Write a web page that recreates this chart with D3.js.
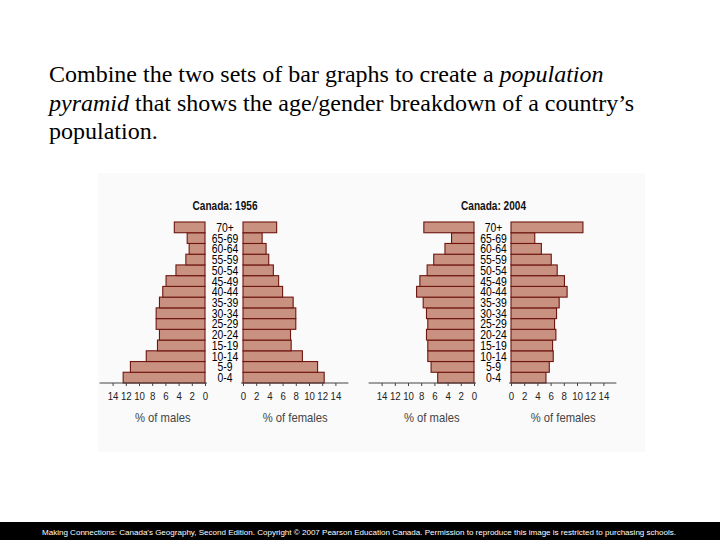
<!DOCTYPE html>
<html>
<head>
<meta charset="utf-8">
<script src="https://cdn.jsdelivr.net/npm/d3@7"></script>
<style>
  html, body { margin: 0; padding: 0; background: #ffffff; }
  svg { display: block; }
</style>
</head>
<body>
<svg id="chart" width="720" height="540"></svg>
<script>
// ---------------- data ----------------
const ageGroups = ["0-4","5-9","10-14","15-19","20-24","25-29","30-34","35-39","40-44","45-49","50-54","55-59","60-64","65-69","70+"];
const males1956   = [12.4, 11.3, 8.9, 7.2, 6.9, 7.4, 7.4, 6.9, 6.4, 5.9, 4.4, 2.9, 2.4, 2.7, 4.65];
const females1956 = [12.3, 11.3, 9.0, 7.3, 7.2, 8.0, 8.0, 7.6, 6.0, 5.4, 4.6, 3.9, 3.5, 2.9, 5.1];
const males2004   = [5.5, 6.5, 7.0, 7.0, 7.2, 7.0, 7.2, 7.7, 8.7, 8.2, 7.1, 6.1, 4.4, 3.4, 7.6];
const females2004 = [5.3, 5.8, 6.4, 6.3, 6.8, 6.6, 6.9, 7.3, 8.5, 8.1, 7.0, 6.1, 4.6, 3.6, 10.9];
const tickValues  = [0, 2, 4, 6, 8, 10, 12, 14];
const chartTitles = ["Canada: 1956", "Canada: 2004"];
const maleAxisTitle = "% of males";
const femaleAxisTitle = "% of females";
const headingLines = [
  [{t:"Combine the two sets of bar graphs to create a ", i:false}, {t:"population", i:true}],
  [{t:"pyramid", i:true}, {t:" that shows the age/gender breakdown of a country\u2019s", i:false}],
  [{t:"population.", i:false}]
];
const footerText = "Making Connections: Canada's Geography, Second Edition. Copyright \u00a9 2007 Pearson Education Canada. Permission to reproduce this image is restricted to purchasing schools.";

// ---------------- drawing ----------------
const svg = d3.select("#chart");
const sans = "'Liberation Sans', Arial, sans-serif";
const SX = 0.84; // horizontal condensing of the chart lettering
const barFill = "#c9917f";
const barStroke = "#6e1510";

function narrowText(sel, x, y, txt, size, opts = {}) {
  return sel.append("text")
    .attr("transform", `translate(${x},${y}) scale(${opts.sx || SX},1)`)
    .attr("text-anchor", "middle")
    .attr("font-family", sans)
    .attr("font-size", size)
    .attr("font-weight", opts.bold ? "bold" : "normal")
    .attr("fill", opts.fill || "#111")
    .text(txt);
}

// heading
const heading = svg.append("text")
  .attr("font-family", "'Liberation Serif', 'Times New Roman', serif")
  .attr("font-size", 24)
  .attr("fill", "#000");
headingLines.forEach((line, li) => {
  line.forEach((seg, si) => {
    const ts = heading.append("tspan").text(seg.t).attr("font-style", seg.i ? "italic" : "normal");
    if (si === 0) ts.attr("x", 49).attr("y", 82 + li * 28.5);
  });
});

// faint panel
svg.append("rect").attr("x", 98).attr("y", 173).attr("width", 547).attr("height", 279).attr("fill", "#fafafa");

const y = d3.scaleBand().domain(ageGroups.slice().reverse()).range([222, 383]).paddingInner(0);

const charts = [
  {title: chartTitles[0], males: males1956, females: females1956, maleZero: 205, femaleZero: 243},
  {title: chartTitles[1], males: males2004, females: females2004, maleZero: 474, femaleZero: 511}
];
const unit = 6.6;

charts.forEach(c => {
  const g = svg.append("g");
  const xm = d3.scaleLinear().domain([0, 14]).range([c.maleZero, c.maleZero - 14 * unit]);
  const xf = d3.scaleLinear().domain([0, 14]).range([c.femaleZero, c.femaleZero + 14 * unit]);
  const mid = (c.maleZero + c.femaleZero) / 2;

  narrowText(g, mid + 1, 210, c.title, 12, {bold: true, fill: "#111"});

  // male bars
  g.selectAll("rect.m").data(ageGroups).join("rect").attr("class", "m")
    .attr("x", (d, i) => xm(c.males[i]))
    .attr("y", d => y(d))
    .attr("width", (d, i) => xm(0) - xm(c.males[i]))
    .attr("height", y.bandwidth())
    .attr("fill", barFill).attr("stroke", barStroke).attr("stroke-width", 1.1);
  // female bars
  g.selectAll("rect.f").data(ageGroups).join("rect").attr("class", "f")
    .attr("x", xf(0))
    .attr("y", d => y(d))
    .attr("width", (d, i) => xf(c.females[i]) - xf(0))
    .attr("height", y.bandwidth())
    .attr("fill", barFill).attr("stroke", barStroke).attr("stroke-width", 1.1);

  // age labels
  ageGroups.forEach(a => {
    narrowText(g, mid + 1, y(a) + y.bandwidth() / 2 + 4.5, a, 12.5, {fill: "#000", sx: 0.83});
  });

  // axes
  const axisY = 383;
  [[xm, -1], [xf, 1]].forEach(([sc, dir]) => {
    const ax = g.append("g").attr("transform", `translate(0,${axisY})`)
      .call(d3.axisBottom(sc).tickValues(tickValues).tickSize(3).tickSizeOuter(0).tickPadding(6));
    ax.select(".domain").remove();
    const r = sc.range();
    ax.append("line")
      .attr("x1", r[0] - dir * 2).attr("x2", r[1] + dir * 13)
      .attr("stroke", "#444").attr("stroke-width", 1);
    ax.selectAll(".tick line").attr("stroke", "#444");
    ax.selectAll(".tick text")
      .attr("font-family", sans).attr("font-size", 11.5).attr("fill", "#222")
      .attr("transform", `scale(${SX},1)`);
  });

  narrowText(g, (xm(0) + xm(14)) / 2 + 4, 422, maleAxisTitle, 12.5, {fill: "#444", sx: 0.9});
  narrowText(g, (xf(0) + xf(14)) / 2 + 6, 422, femaleAxisTitle, 12.5, {fill: "#444", sx: 0.9});
});

// footer
svg.append("rect").attr("x", 0).attr("y", 522).attr("width", 720).attr("height", 18).attr("fill", "#000");
svg.append("text").attr("x", 42).attr("y", 535)
  .attr("font-family", sans).attr("font-size", 8).attr("fill", "#fff")
  .attr("textLength", 634).attr("lengthAdjust", "spacingAndGlyphs")
  .text(footerText);
</script>
</body>
</html>
